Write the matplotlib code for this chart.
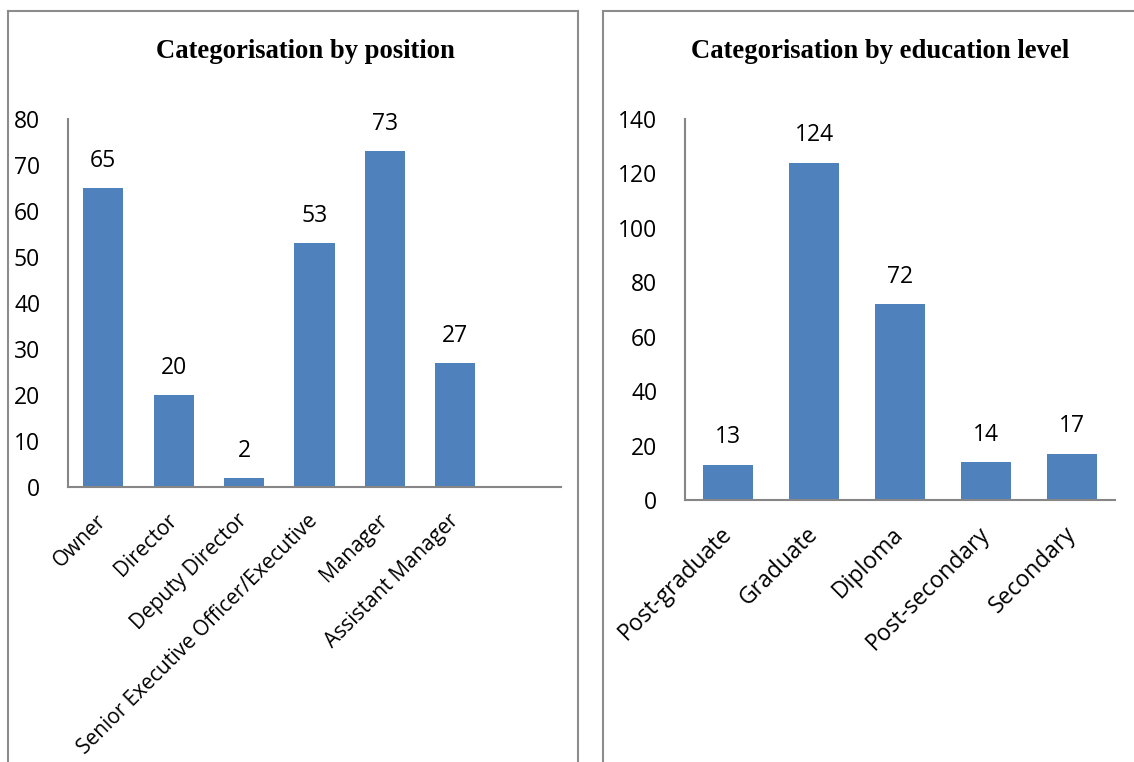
import matplotlib.pyplot as plt
from matplotlib.lines import Line2D

positions = ["Owner", "Director", "Deputy Director",
             "Senior Executive Officer/Executive", "Manager", "Assistant Manager"]
position_counts = [65, 20, 2, 53, 73, 27]

education = ["Post-graduate", "Graduate", "Diploma", "Post-secondary", "Secondary"]
education_counts = [13, 124, 72, 14, 17]

BAR = "#4F81BD"
AXIS = "#868686"
FRAME = "#8c8c8c"
W, H = 1134, 762

plt.rcParams["font.family"] = ["Open Sans", "DejaVu Sans"]

fig = plt.figure(figsize=(W / 100, H / 100), dpi=100)


def fx(px):
    return px / W


def fy(py):
    return 1 - py / H


def bar_panel(rect, labels, values, ymax, step, n_slots, title, title_x,
              label_size, label_pad):
    ax = fig.add_axes(rect)
    x = list(range(len(labels)))
    bars = ax.bar(x, values, width=0.57, color=BAR)
    ax.set_xlim(-0.5, n_slots - 0.5)
    ax.set_ylim(0, ymax)
    ax.set_yticks(range(0, ymax + 1, step))
    ax.set_xticks(x)
    ax.set_xticklabels(labels, rotation=45, ha="right", va="center",
                       rotation_mode="anchor", fontsize=label_size)
    ax.tick_params(axis="both", length=0)
    ax.tick_params(axis="y", labelsize=16.5, pad=20)
    ax.tick_params(axis="x", pad=label_pad)
    for side in ("top", "right"):
        ax.spines[side].set_visible(False)
    for side in ("left", "bottom"):
        ax.spines[side].set_color(AXIS)
        ax.spines[side].set_linewidth(1.5)
    for b, v in zip(bars, values):
        ax.annotate(str(v), (b.get_x() + b.get_width() / 2, v),
                    xytext=(0, 11), textcoords="offset points",
                    ha="center", va="bottom", fontsize=16.5)
    fig.text(title_x, fy(51), title, ha="center", va="center",
             fontsize=19.2, fontweight="bold", family="Liberation Serif")
    return ax


bar_panel([fx(68), fy(487), fx(561) - fx(68), fy(119) - fy(487)],
          positions, position_counts, 80, 10, 7,
          "Categorisation by position", fx(305), 15, 22)
bar_panel([fx(685), fy(500), fx(1115) - fx(685), fy(119) - fy(500)],
          education, education_counts, 140, 20, 5,
          "Categorisation by education level", fx(880), 16.5, 22)

# chart frames
for xs, ys in [
    ([fx(7.5), fx(7.5)], [0, fy(10.5)]),
    ([fx(7.5), fx(577.5)], [fy(10.5), fy(10.5)]),
    ([fx(577.5), fx(577.5)], [fy(10.5), 0]),
    ([fx(603), fx(603)], [0, fy(10.5)]),
    ([fx(603), 1], [fy(10.5), fy(10.5)]),
]:
    fig.add_artist(Line2D(xs, ys, color=FRAME, linewidth=1.5))

fig.savefig("out.png", dpi=100)
